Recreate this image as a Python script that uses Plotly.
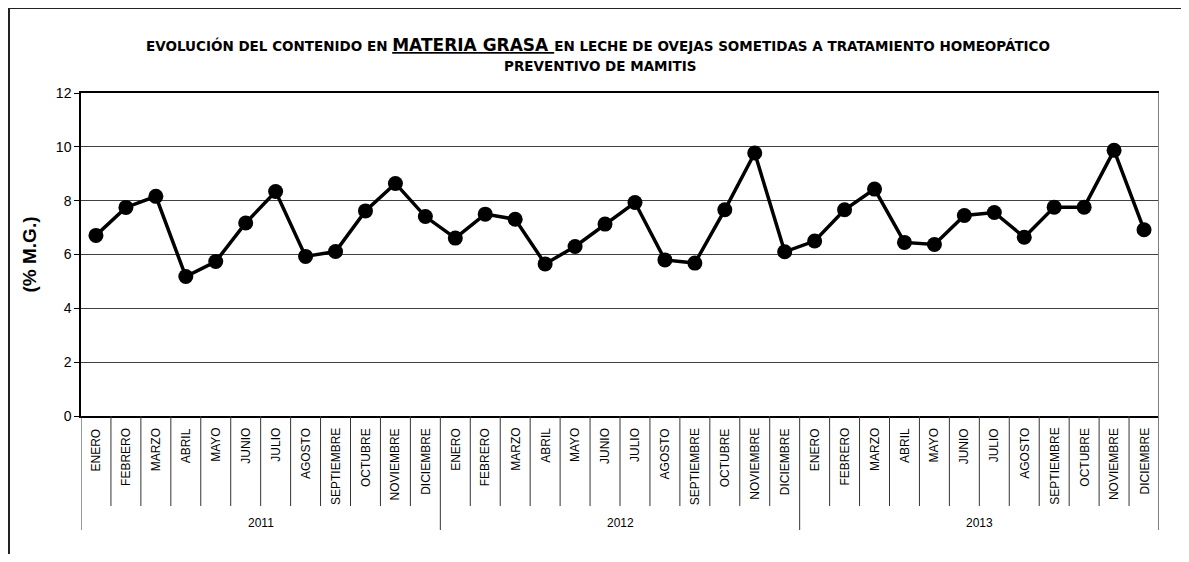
import plotly.graph_objects as go

# Datos: contenido de materia grasa (%) por mes
years = ['2011', '2012', '2013']
months = ['ENERO', 'FEBRERO', 'MARZO', 'ABRIL', 'MAYO', 'JUNIO', 'JULIO',
          'AGOSTO', 'SEPTIEMBRE', 'OCTUBRE', 'NOVIEMBRE', 'DICIEMBRE']
mg_2011 = [6.71, 7.75, 8.16, 5.18, 5.74, 7.17, 8.34, 5.93, 6.11, 7.62, 8.64, 7.41]
mg_2012 = [6.61, 7.50, 7.31, 5.65, 6.30, 7.13, 7.93, 5.80, 5.68, 7.66, 9.77, 6.10]
mg_2013 = [6.50, 7.66, 8.43, 6.45, 6.37, 7.45, 7.56, 6.64, 7.76, 7.76, 9.87, 6.92]
y_ticks = [0, 2, 4, 6, 8, 10, 12]

values = mg_2011 + mg_2012 + mg_2013
month_labels = months * len(years)
x = list(range(len(values)))

# Geometria (pixeles de la pagina); el body del html tiene 8px de margen
OFF = 8
W, H = 1189 - 2 * OFF, 562 - 2 * OFF
L, R, T, B = 81 - OFF, 1159 - OFF, 93 - OFF, 416 - OFF


def px(p):  # pixel x de la pagina -> paper
    return (p - OFF - L) / (R - L)


def py(p):  # pixel y de la pagina -> paper
    return (B - (p - OFF)) / (B - T)


fig = go.Figure()
fig.add_trace(go.Scatter(
    x=x, y=values, mode='lines+markers',
    line=dict(color='black', width=3.5),
    marker=dict(color='black', size=15),
    showlegend=False, hoverinfo='y'))

shapes = []
annotations = []

# marco exterior (arriba e izquierda)
shapes.append(dict(type='line', xref='paper', yref='paper', x0=px(8), x1=px(1200),
                   y0=py(8), y1=py(8), line=dict(color='#222', width=2)))
shapes.append(dict(type='line', xref='paper', yref='paper', x0=px(9), x1=px(9),
                   y0=py(8), y1=py(570), line=dict(color='#222', width=2)))

# borde derecho del area de trazado (gris)
shapes.append(dict(type='line', xref='x', yref='paper', x0=len(values) - 0.5, x1=len(values) - 0.5,
                   y0=1, y1=py(530), line=dict(color='#808080', width=2)))

# separadores de meses y de años
for i in range(len(values)):
    long_line = (i % 12 == 0)
    shapes.append(dict(type='line', xref='x', yref='paper', x0=i - 0.5, x1=i - 0.5,
                       y0=0, y1=py(530 if long_line else 506),
                       line=dict(color='#333', width=1)))

for i, m in enumerate(month_labels):
    annotations.append(dict(x=i, y=0, xref='x', yref='paper', text=m, showarrow=False,
                            textangle=-90, yanchor='top', xanchor='center', yshift=-10,
                            font=dict(size=12, color='black')))

for k, yr in enumerate(years):
    annotations.append(dict(x=k * 12 + 5.5, y=py(523), xref='x', yref='paper', text=yr,
                            showarrow=False, yanchor='middle',
                            font=dict(size=12, color='black')))

# titulo
annotations.append(dict(
    x=px(598), y=py(45), xref='paper', yref='paper', showarrow=False,
    xanchor='center', yanchor='middle',
    text="<b>EVOLUCIÓN DEL CONTENIDO EN <u><span style='font-size:17px'>MATERIA GRASA </span></u>"
         "EN LECHE DE OVEJAS SOMETIDAS A TRATAMIENTO HOMEOPÁTICO</b>",
    font=dict(size=13.5, color='black', family='DejaVu Sans')))
annotations.append(dict(
    x=px(600), y=py(66), xref='paper', yref='paper', showarrow=False,
    xanchor='center', yanchor='middle',
    text='<b>PREVENTIVO DE MAMITIS</b>',
    font=dict(size=13.5, color='black', family='DejaVu Sans')))

fig.update_layout(
    width=W, height=H,
    margin=dict(l=L, r=W - R, t=T, b=H - B),
    paper_bgcolor='white', plot_bgcolor='white',
    font=dict(family='Liberation Sans, Arial', color='black'),
    shapes=shapes, annotations=annotations,
    xaxis=dict(range=[-0.5, len(values) - 0.5], showticklabels=False, showgrid=False,
               zeroline=False, ticks='', showline=True, mirror=True,
               linecolor='black', linewidth=1.5, fixedrange=True),
    yaxis=dict(range=[0, 12], tickvals=y_ticks, showgrid=True, gridcolor='#404040',
               gridwidth=1, zeroline=False, showline=True, linecolor='black', linewidth=1.5,
               ticks='outside', ticklen=5, tickcolor='black', tickfont=dict(size=14),
               title=dict(text='<b>(% M.G.)</b>', font=dict(size=19), standoff=14),
               fixedrange=True),
)

fig.write_html("out.html")
